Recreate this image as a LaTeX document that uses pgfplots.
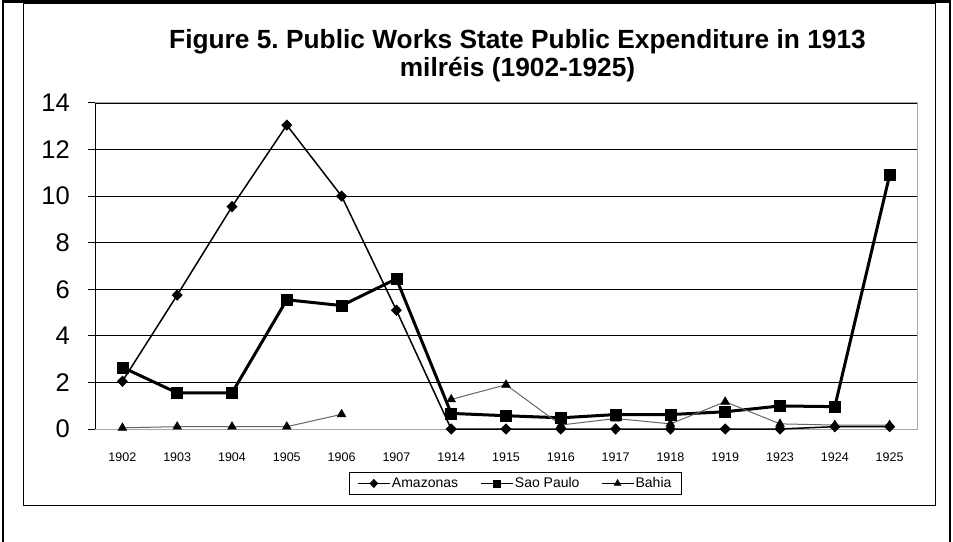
\documentclass[border=0pt]{standalone}
\usepackage{fontspec}
\setmainfont{Liberation Sans}
\usepackage{pgfplots}
\pgfplotsset{compat=1.18}
\begin{document}
\begin{tikzpicture}[x=1pt,y=1pt]
\useasboundingbox (0,0) rectangle (953,541);
\fill[white] (0,0) rectangle (953,541);
\draw[line width=2.5pt] (3,-5) -- (3,539.5) -- (950,539.5) -- (950,-5);
\draw[line width=1.3pt] (23.3,35.3) rectangle (935.7,537.3);
\begin{axis}[
  at={(95pt,112pt)}, anchor=south west, scale only axis,
  width=822pt, height=326pt,
  xmin=-0.5, xmax=14.5, ymin=0, ymax=14,
  ytick={0,2,...,14},
  xtick={0,...,14},
  xticklabels={1902,1903,1904,1905,1906,1907,1914,1915,1916,1917,1918,1919,1923,1924,1925},
  axis line style={draw=gray!70, line width=1pt},
  ymajorgrids, grid style={black, line width=0.9pt},
  tick align=outside, ytick pos=left, major tick length=7pt,
  ytick style={black, line width=1pt},
  xtick style={draw=none},
  /pgf/number format/assume math mode=true,
  yticklabel style={font=\fontsize{25.5}{30}\selectfont, inner sep=0pt, xshift=-18pt},
  xticklabel style={font=\fontsize{12.5}{15}\selectfont, inner sep=0pt, yshift=-17pt},
  clip=false,
  unbounded coords=jump,
  title={Figure 5.\ Public Works State Public Expenditure in 1913\\milréis (1902-1925)},
  title style={at={(0.514,1.128)}, anchor=center, align=center, font=\bfseries\fontsize{26.3}{28}\selectfont},
  legend columns=3,
  legend style={at={(0.511,-0.167)}, anchor=center, draw=black, line width=0.8pt,
    font=\fontsize{14}{16}\selectfont, inner xsep=8pt, inner ysep=3pt,
    nodes={inner xsep=1.5pt},
    /tikz/every even column/.append style={column sep=20pt}},
]
\addplot[black, line width=1.5pt, mark=diamond*, mark size=4.6pt, mark options={solid, xscale=1.3}, 
  legend image code/.code={\draw[line width=1.3pt, mark repeat=2,mark phase=2, mark size=3.6pt] plot coordinates {(0pt,0pt) (16pt,0pt) (32pt,0pt)};}] coordinates {
(0,2.05) (1,5.75) (2,9.55) (3,13.05) (4,10.0) (5,5.1) (6,0) (7,0) (8,0) (9,0) (10,0) (11,0) (12,0) (13,0.1) (14,0.1)};
\addlegendentry{Amazonas}
\addplot[black, line width=3pt, mark=square*, mark size=5.5pt, mark options={line width=0.5pt},
  legend image code/.code={\draw[line width=1.8pt, mark repeat=2,mark phase=2, mark size=3.6pt] plot coordinates {(0pt,0pt) (16pt,0pt) (32pt,0pt)};}] coordinates {
(0,2.65) (1,1.55) (2,1.55) (3,5.55) (4,5.3) (5,6.45) (6,0.67) (7,0.57) (8,0.48) (9,0.62) (10,0.62) (11,0.74) (12,0.99) (13,0.96) (14,10.9)};
\addlegendentry{Sao Paulo}
\addplot[gray!80!black, line width=1pt, mark=triangle*, mark size=5.1pt, mark options={black, fill=black, line width=0.4pt},
  legend image code/.code={\draw[black, line width=1.1pt, mark repeat=2,mark phase=2, mark size=4pt] plot coordinates {(0pt,0pt) (16pt,0pt) (32pt,0pt)};}] coordinates {
(0,0.05) (1,0.1) (2,0.1) (3,0.1) (4,0.63) (5,nan) (6,1.27) (7,1.9) (8,0.17) (9,0.45) (10,0.22) (11,1.17) (12,0.22) (13,0.17) (14,0.17)};
\addlegendentry{Bahia}
\draw[black, line width=1pt] (rel axis cs:0,0) -- (rel axis cs:0,1);
\end{axis}
\end{tikzpicture}
\end{document}
